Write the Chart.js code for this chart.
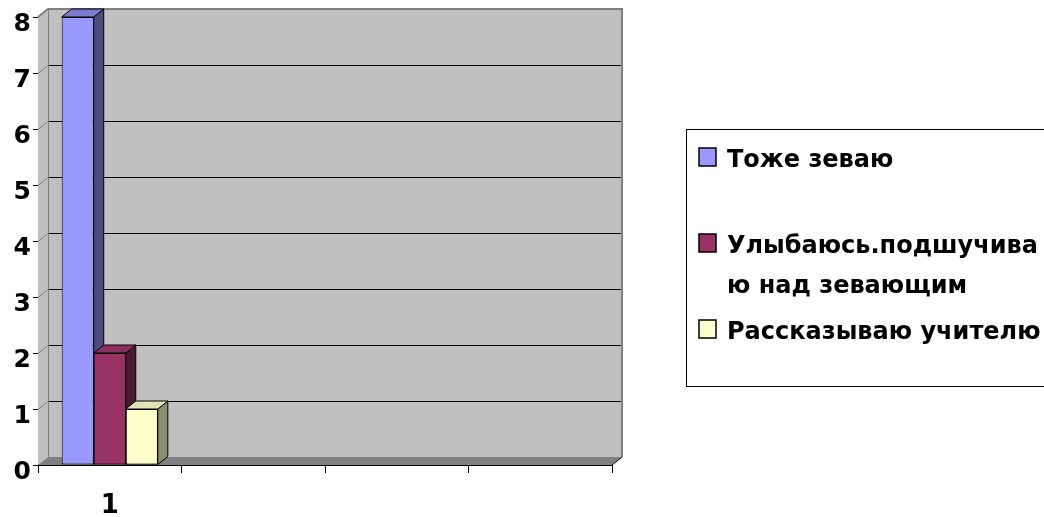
<!DOCTYPE html>
<html>
<head>
<meta charset="utf-8">
<script src="https://cdn.jsdelivr.net/npm/chart.js@4/dist/chart.umd.min.js"></script>
<style>
  html, body { margin: 0; padding: 0; background: #fff; }
  #wrap { width: 1044px; height: 517px; position: relative; }
</style>
</head>
<body>
<div id="wrap"><canvas id="chart" width="1044" height="517"></canvas></div>
<script>
// data
var categories = ['1', '', '', ''];
var seriesNames = [
    ['Тоже зеваю'],
    ['Улыбаюсь.подшучива', 'ю над зевающим'],
    ['Рассказываю учителю']
];
var seriesValues = [8, 2, 1];
var yTicks = [0, 1, 2, 3, 4, 5, 6, 7, 8];

var frontColors = ['#9999ff', '#993366', '#ffffcc'];
var topColors = ['#7b7bd0', '#8c2f5e', '#e3e3b5'];
var sideColors = ['#4d4d80', '#4d1a33', '#8c8c70'];

// 3d offset of the back wall
var DX = 10, DY = 8;

var wallsPlugin = {
    id: 'walls',
    beforeDatasetsDraw: function (chart) {
        var ctx = chart.ctx;
        var a = chart.chartArea;
        var yScale = chart.scales.y;
        ctx.save();
        // back wall
        ctx.fillStyle = '#c0c0c0';
        ctx.fillRect(a.left + DX, a.top - DY, a.right - a.left, a.bottom - a.top);
        // side wall
        ctx.beginPath();
        ctx.moveTo(a.left, a.top);
        ctx.lineTo(a.left + DX, a.top - DY);
        ctx.lineTo(a.left + DX, a.bottom - DY);
        ctx.lineTo(a.left, a.bottom);
        ctx.closePath();
        ctx.fill();
        // floor
        ctx.fillStyle = '#808080';
        ctx.beginPath();
        ctx.moveTo(a.left, a.bottom);
        ctx.lineTo(a.left + DX, a.bottom - DY);
        ctx.lineTo(a.right + DX, a.bottom - DY);
        ctx.lineTo(a.right, a.bottom);
        ctx.closePath();
        ctx.fill();
        // grid lines
        ctx.lineWidth = 1;
        yTicks.forEach(function (v) {
            if (v === 0 || v === yTicks[yTicks.length - 1]) return;
            var y = Math.round(yScale.getPixelForValue(v)) + 0.5;
            ctx.strokeStyle = '#000';
            ctx.beginPath();
            ctx.moveTo(a.left + DX, y - DY);
            ctx.lineTo(a.right + DX, y - DY);
            ctx.stroke();
            ctx.strokeStyle = '#808080';
            ctx.beginPath();
            ctx.moveTo(a.left, y);
            ctx.lineTo(a.left + DX, y - DY);
            ctx.stroke();
        });
        // wall edges
        ctx.strokeStyle = '#808080';
        ctx.lineWidth = 2;
        ctx.beginPath();
        ctx.moveTo(a.left, a.top);
        ctx.lineTo(a.left + DX, a.top - DY);
        ctx.lineTo(a.right + DX, a.top - DY);
        ctx.lineTo(a.right + DX, a.bottom - DY);
        ctx.stroke();
        ctx.lineWidth = 1;
        ctx.beginPath();
        ctx.moveTo(a.left + DX + 0.5, a.top - DY);
        ctx.lineTo(a.left + DX + 0.5, a.bottom - DY);
        ctx.stroke();
        ctx.strokeStyle = '#000';
        ctx.beginPath();
        ctx.moveTo(a.right, a.bottom);
        ctx.lineTo(a.right + DX, a.bottom - DY);
        ctx.stroke();
        ctx.restore();
    },
    afterDatasetsDraw: function (chart) {
        var ctx = chart.ctx;
        ctx.save();
        chart.data.datasets.forEach(function (ds, i) {
            var meta = chart.getDatasetMeta(i);
            meta.data.forEach(function (bar) {
                var p = bar.getProps(['x', 'y', 'base', 'width'], true);
                var l = p.x - p.width / 2, r = p.x + p.width / 2;
                ctx.lineWidth = 1;
                ctx.strokeStyle = '#000';
                // side face
                ctx.fillStyle = sideColors[i];
                ctx.beginPath();
                ctx.moveTo(r, p.y);
                ctx.lineTo(r + DX, p.y - DY);
                ctx.lineTo(r + DX, p.base - DY);
                ctx.lineTo(r, p.base);
                ctx.closePath();
                ctx.fill();
                ctx.stroke();
                // top face
                ctx.fillStyle = topColors[i];
                ctx.beginPath();
                ctx.moveTo(l, p.y);
                ctx.lineTo(l + DX, p.y - DY);
                ctx.lineTo(r + DX, p.y - DY);
                ctx.lineTo(r, p.y);
                ctx.closePath();
                ctx.fill();
                ctx.stroke();
            });
            // front faces of the next bars cover this side face
            chart.data.datasets.forEach(function (d2, j) {
                if (j > i) chart.getDatasetMeta(j).data.forEach(function (b) { b.draw(ctx); });
            });
        });
        ctx.restore();
    }
};

var legendPlugin = {
    id: 'boxLegend',
    afterDraw: function (chart) {
        var ctx = chart.ctx;
        var baselines = [167, 253, 339];
        var lineGap = 40;
        ctx.save();
        ctx.strokeStyle = '#000';
        ctx.lineWidth = 1;
        ctx.strokeRect(686.5, 129.5, 420, 257);
        ctx.font = 'bold 24px "DejaVu Sans"';
        ctx.textBaseline = 'alphabetic';
        seriesNames.forEach(function (lines, i) {
            var y = baselines[i];
            ctx.fillStyle = frontColors[i];
            ctx.fillRect(699, y - 19, 17, 18);
            ctx.strokeStyle = '#000';
            ctx.lineWidth = 1.5;
            ctx.strokeRect(699, y - 19, 17, 18);
            ctx.fillStyle = '#000';
            lines.forEach(function (t, k) {
                ctx.fillText(t, 727, y + k * lineGap);
            });
        });
        ctx.restore();
    }
};

var datasets = seriesNames.map(function (name, i) {
    return {
        label: name.join(' '),
        data: [seriesValues[i]],
        backgroundColor: frontColors[i],
        borderColor: '#000',
        borderWidth: 1,
        borderSkipped: false,
        categoryPercentage: 0.67,
        barPercentage: 1,
        clip: false
    };
});

var ctx = document.getElementById('chart').getContext('2d');
var myChart = new Chart(ctx, {
    type: 'bar',
    data: { labels: categories, datasets: datasets },
    options: {
        responsive: false,
        animation: false,
        layout: { padding: { left: 0, right: 432, top: 16, bottom: 0 } },
        plugins: {
            legend: { display: false },
            tooltip: { enabled: false }
        },
        scales: {
            x: {
                offset: true,
                grid: { offset: true, drawOnChartArea: false, tickLength: 8, color: '#000' },
                border: { color: '#000', width: 1 },
                ticks: {
                    color: '#000',
                    padding: 18,
                    maxRotation: 0,
                    font: { family: 'DejaVu Sans', weight: 'bold', size: 26 }
                },
                afterFit: function (s) { s.height = 52; }
            },
            y: {
                min: 0,
                max: 8,
                grid: { drawOnChartArea: false, tickLength: 5, color: '#000' },
                border: { color: '#000', width: 1 },
                ticks: {
                    stepSize: 1,
                    color: '#000',
                    padding: 2,
                    labelOffset: 7,
                    font: { family: 'DejaVu Sans', weight: 'bold', size: 25 }
                },
                afterFit: function (s) { s.width = 38; }
            }
        }
    },
    plugins: [wallsPlugin, legendPlugin]
});
</script>
</body>
</html>
